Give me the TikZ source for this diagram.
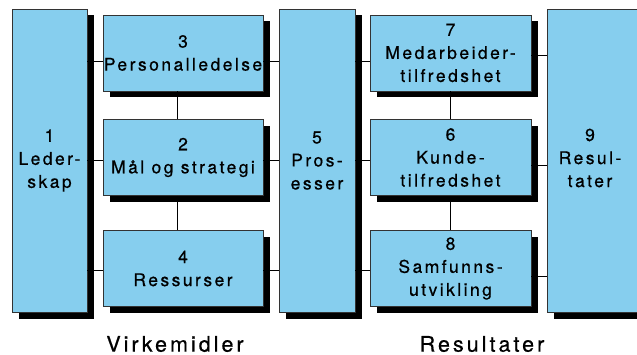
\documentclass[tikz,border=0pt]{standalone}
\usepackage{fontspec}
\setmainfont{TeX Gyre Heros}
\newfontfamily\boxfont[LetterSpace=14, FakeBold=0.6]{TeX Gyre Heros}
\usetikzlibrary{positioning, shadows}
\definecolor{boxblue}{RGB}{134,206,238}

\begin{document}
\begin{tikzpicture}[
    x=1pt, y=-1pt,
    box/.style={rectangle, draw=black!80, fill=boxblue, line width=0.8pt, inner sep=0pt, align=center,
        font=\boxfont\fontsize{17.5}{23}\selectfont,
        drop shadow={shadow xshift=6.5pt, shadow yshift=-6.5pt, fill=black, opacity=1}},
    tall/.style={box, minimum width=75pt, minimum height=303pt},
    small/.style={box, minimum width=160pt, minimum height=76pt},
    line/.style={draw=black, line width=0.8pt},
    caption/.style={inner sep=0pt, font=\boxfont\fontsize{21.5}{24}\selectfont}
]
\useasboundingbox (0,0) rectangle (637,355);

% Nodes
\node (lead) [tall] at (49.5,160.5) {1\\Leder-\\skap};
\node (pers) [small] at (183,53) {3\\Personalledelse};
\node (mal) [small] at (183,157.5) {2\\Mål og strategi};
\node (ress) [small] at (183,268.5) {4\\Ressurser};
\node (proc) [tall, minimum width=76pt] at (317,160.5) {5\\Pros-\\esser};
\node (med) [small, minimum width=161pt] at (450.5,53) {7\\Medarbeider-\\tilfredshet};
\node (kunde) [small, minimum width=161pt] at (450.5,157.5) {6\\Kunde-\\tilfredshet};
\node (samf) [small, minimum width=161pt] at (450.5,268.5) {8\\Samfunns-\\utvikling};
\node (resultat) [tall, minimum width=98pt] at (596,160.5) {};
\node (restext) [align=center, font=\boxfont\fontsize{17.5}{23}\selectfont] at (590,158) {9\\Resul-\\tater};

\node (virke) [caption] at (175,344) {Virkemidler};
\node (resultater) [caption] at (482,344) {Resultater};

% Lines, left group
\coordinate (l3) at ([yshift=-8pt]pers.west);
\coordinate (r3) at ([yshift=-8pt]pers.east);
\coordinate (l2) at ([yshift=-2.5pt]mal.west);
\coordinate (r2) at ([yshift=-2.5pt]mal.east);
\coordinate (l4) at ([yshift=-1.5pt]ress.west);
\coordinate (r4) at ([yshift=-1.5pt]ress.east);
\draw [line] (lead.east |- l3) -- (l3);
\draw [line] (r3) -- (proc.west |- r3);
\draw [line] (lead.east |- l2) -- (l2);
\draw [line] (r2) -- (proc.west |- r2);
\draw [line] (lead.east |- l4) -- (l4);
\draw [line] (r4) -- (proc.west |- r4);
\draw [line] ([xshift=-6pt]pers.south) -- ([xshift=-6pt]mal.north);
\draw [line] ([xshift=-6pt]mal.south) -- ([xshift=-6pt]ress.north);

% Lines, right group
\coordinate (l7) at ([yshift=-8pt]med.west);
\coordinate (r7) at ([yshift=-2pt]med.east);
\coordinate (l6) at ([yshift=-2.5pt]kunde.west);
\coordinate (r6) at ([yshift=-7.5pt]kunde.east);
\coordinate (l8) at ([yshift=-1.5pt]samf.west);
\coordinate (r8) at ([yshift=-7.5pt]samf.east);
\draw [line] (proc.east |- l7) -- (l7);
\draw [line] (r7) -- (resultat.west |- r7);
\draw [line] (proc.east |- l6) -- (l6);
\draw [line] (r6) -- (resultat.west |- r6);
\draw [line] (proc.east |- l8) -- (l8);
\draw [line] (r8) -- (resultat.west |- r8);
\draw [line] (med.south) -- (kunde.north);
\draw [line] (kunde.south) -- (samf.north);

\end{tikzpicture}
\end{document}
